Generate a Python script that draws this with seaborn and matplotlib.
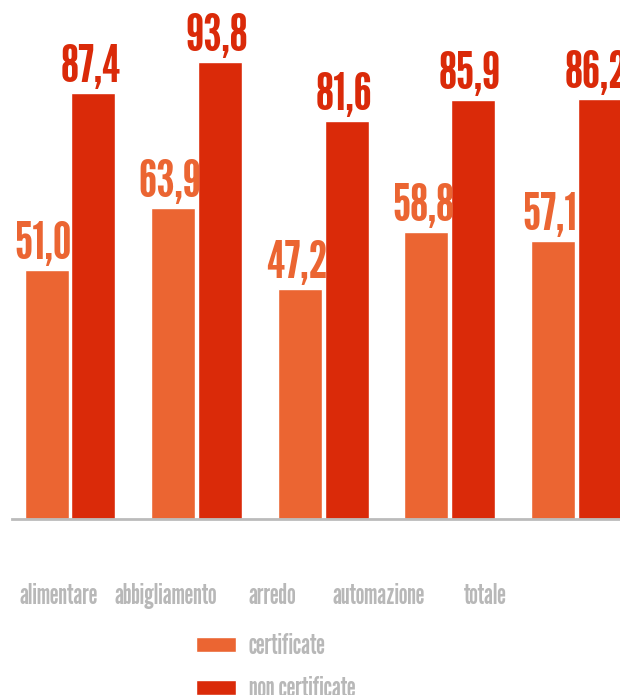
import matplotlib
matplotlib.use("Agg")
import matplotlib.pyplot as plt
import seaborn as sns
import pandas as pd

# Share of companies by sector, certified vs non-certified
categories = ["alimentare", "abbigliamento", "arredo", "automazione", "totale"]
certificate = [51.0, 63.9, 47.2, 58.8, 57.1]
non_certificate = [87.4, 93.8, 81.6, 85.9, 86.2]
series_names = ["certificate", "non certificate"]

df = pd.DataFrame({
    "settore": categories * 2,
    "valore": certificate + non_certificate,
    "gruppo": [series_names[0]] * len(categories) + [series_names[1]] * len(categories),
})

ORANGE = "#EB6532"
RED = "#DA2A09"
GRAY = "#B8B8B8"
FONT = ["League Gothic", "DejaVu Sans"]

sns.set_theme(style="white")
plt.rcParams["font.family"] = FONT

W, H = 620, 695
fig = plt.figure(figsize=(W / 100, H / 100), dpi=100)
ax = fig.add_axes([12 / W, 1 - 519 / H, 1 - 12 / W, 519 / H])

sns.barplot(data=df, x="settore", y="valore", hue="gruppo",
            palette=[ORANGE, RED], width=0.74, gap=0.06,
            saturation=1, ax=ax, order=categories, hue_order=series_names)

ax.set_xlim(-0.458, 4.345)
ax.set_ylim(0, 106.5)

# value labels above every bar, in the bar's own colour
for container, color in zip(ax.containers, [ORANGE, RED]):
    for rect, v in zip(container.patches, container.datavalues):
        ax.annotate(f"{v:.1f}".replace(".", ","),
                    xy=(rect.get_x() + rect.get_width() / 2, rect.get_height()),
                    xytext=(-3, 11), textcoords="offset pixels",
                    ha="center", va="baseline", color=color,
                    fontsize=38, family=FONT, annotation_clip=False)

# category labels sit on their own, slightly tighter spacing
spacing = 106.5 / 126.6
offset = (59 - 70) / 126.6
ax.set_xticks([offset + i * spacing for i in range(len(categories))])
ax.set_xticklabels(categories)
ax.tick_params(axis="x", length=0, pad=46, labelsize=20, labelcolor=GRAY)
ax.set_xlabel("")
ax.set_ylabel("")
ax.set_yticks([])

for side in ["top", "right", "left"]:
    ax.spines[side].set_visible(False)
ax.spines["bottom"].set_color("#BBBBBB")
ax.spines["bottom"].set_linewidth(2)

sns.move_legend(ax, loc="upper left",
                bbox_to_anchor=(196 / W, 1 - 633 / H),
                bbox_transform=fig.transFigure,
                frameon=False, title=None, fontsize=20,
                handlelength=1.45, handleheight=0.45,
                handletextpad=0.45, labelspacing=0.62,
                borderpad=0, borderaxespad=0)
for t in ax.get_legend().get_texts():
    t.set_color(GRAY)

fig.savefig("out.png", dpi=100)
